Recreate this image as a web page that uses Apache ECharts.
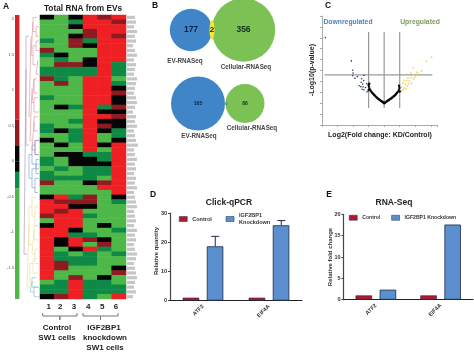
<!DOCTYPE html>
<html>
<head>
<meta charset="utf-8">
<style>
  html, body { margin: 0; padding: 0; background: #fff; }
  #main { width: 474px; height: 354px; filter: blur(0.35px); }
</style>
<script src="https://cdn.jsdelivr.net/npm/echarts@6/dist/echarts.min.js"></script>
</head>
<body>
<div id="main"></div>
<script>
// heat levels: R up, M dark red, K black, D dark green, G green
const R = 2, M = 0.4, K = 0, D = -0.3, G = -1;

const heatCol1 = [K,G,G,G,G,D,G,M,D,G,G,D,D,M,G,G,G,D,G,G,G,G,G,D,D,G,K,G,G,G,D,D,G,D,D,M,G,G,K,R,R,R,M,G,K,R,R,R,R,R,R,R,R,R,R,R,G,D,D,K];
const heatCol2 = [G,G,G,G,G,G,G,G,K,D,M,D,D,D,M,G,G,G,G,K,G,G,G,G,K,G,G,K,G,K,G,G,D,G,D,G,G,G,R,M,R,M,R,R,R,R,R,K,K,G,D,D,M,M,G,G,D,D,D,M];
const heatCol3 = [K,D,K,G,K,M,M,G,G,G,M,D,D,G,G,G,G,G,G,D,G,G,D,G,D,D,D,G,G,K,K,K,G,G,D,G,G,G,D,M,K,R,R,R,R,K,D,R,R,K,G,D,D,G,G,M,R,R,R,R];
const heatCol4 = [R,R,R,M,M,D,K,G,G,K,K,D,D,R,R,R,R,R,R,R,R,R,R,R,R,R,R,R,R,D,K,K,D,D,D,K,G,G,M,M,K,G,D,G,G,G,D,M,G,R,D,D,D,G,G,G,D,D,D,D];
const heatCol5 = [M,R,R,R,R,R,R,R,R,R,R,R,R,R,R,R,R,R,R,D,K,R,K,M,K,G,G,K,G,D,D,K,D,D,G,M,R,G,G,G,G,G,G,G,K,G,G,K,M,D,G,G,G,G,G,K,D,D,D,G];
const heatCol6 = [R,M,R,R,M,R,R,R,R,R,D,D,D,G,D,K,M,K,K,M,K,M,K,K,D,D,K,R,R,R,R,R,R,R,R,R,R,R,K,D,G,G,G,G,G,D,G,G,G,G,D,G,G,K,M,G,G,D,D,R];
const heatCols = [heatCol1, heatCol2, heatCol3, heatCol4, heatCol5, heatCol6];
const heatSamples = ['1', '2', '3', '4', '5', '6'];

// gene names are not legible in the picture, only how long each one runs
const geneLabelLengths = [8,9,7,10,8,9,6,8,10,7,9,8,7,10,9,8,7,9,10,8,6,9,8,10,7,8,9,11,7,8,10,8,9,7,9,8,10,7,8,9,10,7,8,9,7,10,8,9,7,8,10,9,7,8,9,10,8,7,9,6];

// colour key, stacked above and below zero
const keyTicks = [2, 1.5, 1, 0.5, 0, -0.5, -1, -1.5];
const keyUp = [0.225, 0.365, 1.47];
const keyDown = [-0.15, -0.23, -1.56];

// dendrogram brackets: [parent depth, row top, row bottom, child depth top, child depth bottom]
const treeRoot = [
  [0, 11, 50, 2, 3],
  [2, 4, 27, 5, 5]
];
const treeRed = [
  [5, 4, 21, 7, 6],
  [7, 1, 8, 9, 9],
  [9, 0, 3, 13, 12],
  [12, 2, 4, 15, 15],
  [9, 6, 10, 12, 12],
  [12, 5, 7, 15, 15],
  [12, 9, 12, 14, 15],
  [6, 15, 26, 8, 8],
  [8, 13, 18, 10, 10],
  [10, 13, 16, 13, 14],
  [10, 17, 20, 14, 15],
  [8, 22, 28, 10, 11],
  [10, 21, 24, 14, 14],
  [11, 26, 29, 15, 15]
];
const treeBlue = [
  [5, 29, 34, 8, 8],
  [8, 27, 31, 11, 12],
  [11, 26, 29, 15, 15],
  [12, 30, 32, 15, 15],
  [8, 32, 36, 12, 11],
  [12, 31, 33, 15, 15],
  [11, 34, 37, 15, 14]
];
const treeYellow = [
  [3, 44, 57, 5, 6],
  [5, 40, 48, 8, 8],
  [8, 38, 42, 12, 11],
  [11, 40, 44, 14, 14],
  [8, 45, 50, 10, 11],
  [10, 44, 47, 14, 15],
  [11, 49, 52, 14, 15],
  [6, 52, 56, 9, 11],
  [9, 51, 54, 13, 14]
];
const treeTeal = [
  [6, 56, 58, 8, 10],
  [8, 55, 57, 12, 15],
  [10, 57, 59, 14, 15]
];

// venn counts
const vennTopCounts = [177, 2, 356];
const vennBottomCounts = [165, 0, 86];

// volcano points [log2 fold change, -log10 p]
const volcanoDown = [[-3.78,3.01],[-2.11,1.94],[-2.03,1.51],[-2.0,1.38],[-2.03,1.26],[-1.88,1.15],[-1.72,1.22],[-1.3,1.28],[-1.45,1.12],[-1.32,1.04],[-1.48,0.96],[-1.38,0.88],[-1.6,0.8],[-1.5,0.76],[-1.36,0.74],[-1.42,0.64],[-1.3,0.62],[-1.12,0.9],[-1.2,0.72],[-1.1,0.52]];
const volcanoUp = [[3.05,2.11],[2.73,1.93],[1.88,1.63],[2.41,1.48],[2.1,1.42],[1.72,1.38],[1.9,1.3],[2.2,1.34],[1.52,1.16],[1.75,1.16],[2.0,1.2],[1.28,1.05],[1.45,1.04],[1.62,1.02],[1.9,1.1],[1.2,0.92],[1.38,0.86],[1.58,0.9],[1.76,0.92],[1.12,0.74],[1.3,0.7],[1.5,0.78],[1.1,0.58],[1.22,0.62],[1.42,0.66]];
const volcanoMid = [[0,0],[0.05,0.02],[-0.05,0.03],[0.1,0.05],[-0.1,0.06],[0.16,0.08],[-0.16,0.09],[0.22,0.11],[-0.22,0.12],[0.28,0.14],[-0.28,0.15],[0.34,0.17],[-0.34,0.18],[0.4,0.2],[-0.4,0.21],[0.46,0.23],[-0.46,0.25],[0.52,0.26],[-0.52,0.29],[0.58,0.3],[-0.58,0.33],[0.64,0.33],[-0.64,0.38],[0.7,0.37],[-0.7,0.42],[0.76,0.42],[-0.76,0.47],[0.82,0.47],[-0.82,0.52],[0.88,0.52],[-0.88,0.58],[0.94,0.6],[-0.94,0.66],[0.98,0.7],[-0.98,0.76],[0.96,0.8],[-1.0,0.84],[-0.96,0.9],[-1.0,0.6],[1.0,0.54]];
const volcanoCutX = [-1, 0, 1];
const volcanoCutY = 1.3;

// bars
const genes = ['ATF2', 'EIF4A'];
const qpcrControl = [1, 1];
const qpcrKnockdown = [18.6, 25.8];
const qpcrKnockdownTop = [22, 27.4];
const seqControl = [1, 1];
const seqKnockdown = [2.35, 17.6];

const chart = echarts.init(document.getElementById('main'), null, { renderer: 'canvas' });

const FONT = '"Liberation Sans", Arial, sans-serif';
const INK = '#222';
const BAR_EDGE = '#1d2a44';

function treeLine(brackets) {
  const pts = [];
  brackets.forEach(b => {
    pts.push([b[3], b[1]], [b[0], b[1]], [b[0], b[2]], [b[4], b[2]], [null, null]);
  });
  return pts;
}

function treeSeries(name, brackets, color) {
  return {
    name: name, type: 'line', xAxisIndex: 3, yAxisIndex: 3,
    data: treeLine(brackets), showSymbol: false, silent: true,
    connectNulls: false, lineStyle: { color: color, width: 0.6 }
  };
}

function txt(x, y, text, size, color, extra) {
  return {
    type: 'text', x: x, y: y, rotation: extra && extra.rotation || 0,
    style: {
      text: text, fontFamily: FONT, fontSize: size, fontWeight: 'bold',
      fill: color || INK, align: 'center', verticalAlign: 'middle'
    }
  };
}

function brace(x1, x2, y) {
  const mid = (x1 + x2) / 2;
  return {
    type: 'polyline',
    shape: { points: [[x1, y - 3], [x1, y], [mid, y], [mid, y + 4], [mid, y], [x2, y], [x2, y - 3]] },
    style: { stroke: '#777', lineWidth: 1, fill: null }
  };
}

function keyBar(name, value, color) {
  return {
    name: name, type: 'bar', xAxisIndex: 2, yAxisIndex: 2, stack: 'key', barWidth: '100%',
    data: [value], silent: true, itemStyle: { color: color }
  };
}

const heatData = [];
heatCols.forEach((col, c) => col.forEach((v, r) => heatData.push([c, r, v])));
const rowNames = heatCol1.map((v, i) => i);

const hidden = { show: false };

const option = {
  animation: false,
  backgroundColor: '#fff',
  textStyle: { fontFamily: FONT },
  legend: [
    {
      data: ['Control', 'IGF2BP1 Knockdown'], left: 179, top: 212, itemWidth: 8, itemHeight: 5,
      itemGap: 14, padding: 0, selectedMode: false, icon: 'rect',
      itemStyle: { borderWidth: 0.5 },
      formatter: n => n.replace(' ', '\n'),
      textStyle: { fontSize: 5.5, fontWeight: 'bold', color: '#333', lineHeight: 7 }
    },
    {
      data: ['Control', 'IGF2BP1 Knockdown'], left: 349, top: 215, itemWidth: 8, itemHeight: 5,
      itemGap: 11, padding: 0, selectedMode: false, icon: 'rect',
      itemStyle: { borderWidth: 0.5 },
      textStyle: { fontSize: 5.1, fontWeight: 'bold', color: '#333' }
    }
  ],
  visualMap: {
    show: false, seriesIndex: 0, type: 'piecewise', dimension: 2,
    pieces: [
      { value: R, color: '#ee2024' },
      { value: M, color: '#8f1a20' },
      { value: K, color: '#050505' },
      { value: D, color: '#0e8a46' },
      { value: G, color: '#4db748' }
    ]
  },
  grid: [
    { left: 40, top: 15, width: 86, height: 284 },
    { left: 127, top: 15, width: 12, height: 284 },
    { left: 15, top: 15, width: 4.4, height: 288.2 },
    { left: 24, top: 15, width: 16, height: 284 },
    { left: 160, top: 0, width: 130, height: 140 },
    { left: 322, top: 16, width: 115, height: 109 },
    { left: 170, top: 213, width: 132, height: 87.6 },
    { left: 343.5, top: 214.3, width: 129.5, height: 85.4 }
  ],
  xAxis: [
    { gridIndex: 0, type: 'category', data: heatSamples, show: false },
    { gridIndex: 1, type: 'value', min: 0, max: 12, show: false },
    { gridIndex: 2, type: 'category', data: ['key'], show: false },
    { gridIndex: 3, type: 'value', min: 0, max: 16, show: false },
    { gridIndex: 4, type: 'value', min: 0, max: 130, show: false },
    {
      gridIndex: 5, type: 'value', min: -4, max: 3.4, interval: 1,
      axisLabel: hidden, splitLine: hidden,
      axisLine: { show: true, onZero: false, lineStyle: { color: '#aaa', width: 1 } },
      axisTick: { show: true, length: 2, lineStyle: { color: '#aaa' } }
    },
    {
      gridIndex: 6, type: 'category', data: genes,
      axisLine: { lineStyle: { color: '#222', width: 1 } },
      axisTick: { alignWithLabel: true, length: 2, lineStyle: { color: '#222' } },
      axisLabel: { rotate: 45, fontSize: 5.5, fontWeight: 'bold', color: '#333', margin: 5, interval: 0 }
    },
    {
      gridIndex: 7, type: 'category', data: genes,
      axisLine: { lineStyle: { color: '#222', width: 1 } },
      axisTick: { alignWithLabel: true, length: 2, lineStyle: { color: '#222' } },
      axisLabel: { rotate: 45, fontSize: 5.5, fontWeight: 'bold', color: '#333', margin: 5, interval: 0 }
    }
  ],
  yAxis: [
    { gridIndex: 0, type: 'category', data: rowNames, inverse: true, show: false },
    { gridIndex: 1, type: 'category', data: rowNames, inverse: true, show: false },
    {
      gridIndex: 2, type: 'value', min: -2, max: 2.06, interval: 0.5,
      splitLine: hidden,
      axisLine: hidden, axisTick: hidden,
      axisLabel: {
        fontSize: 4, color: '#555', margin: 1,
        formatter: v => keyTicks.indexOf(v) >= 0 ? String(v) : ''
      }
    },
    { gridIndex: 3, type: 'value', min: -0.5, max: 59.5, inverse: true, show: false },
    { gridIndex: 4, type: 'value', min: 0, max: 140, inverse: true, show: false },
    {
      gridIndex: 5, type: 'value', min: -1, max: 4, interval: 0.5,
      axisLabel: hidden, splitLine: hidden,
      axisLine: { show: true, onZero: false, lineStyle: { color: '#aaa', width: 1 } },
      axisTick: { show: true, length: 2, lineStyle: { color: '#aaa' } }
    },
    {
      gridIndex: 6, type: 'value', min: 0, max: 30, interval: 10, splitLine: hidden,
      axisLine: { show: true, lineStyle: { color: '#444', width: 1.2 } },
      axisTick: { show: true, length: 2, lineStyle: { color: '#444' } },
      axisLabel: { fontSize: 5.5, fontWeight: 'bold', color: '#333', margin: 3 }
    },
    {
      gridIndex: 7, type: 'value', min: 0, max: 20, interval: 5, splitLine: hidden,
      axisLine: { show: true, lineStyle: { color: '#444', width: 1.2 } },
      axisTick: { show: true, length: 2, lineStyle: { color: '#444' } },
      axisLabel: { fontSize: 5.5, fontWeight: 'bold', color: '#333', margin: 3 }
    }
  ],
  series: [
    {
      name: 'heat', type: 'heatmap', xAxisIndex: 0, yAxisIndex: 0, data: heatData,
      progressive: 0, silent: true, emphasis: { disabled: true }
    },
    {
      name: 'geneLabels', type: 'bar', xAxisIndex: 1, yAxisIndex: 1, data: geneLabelLengths,
      barWidth: 3.2, silent: true, itemStyle: { color: '#c6c6c6' }
    },
    keyBar('keyK+', keyUp[0], '#050505'),
    keyBar('keyM', keyUp[1], '#8f1a20'),
    keyBar('keyR', keyUp[2], '#d8222a'),
    keyBar('keyK-', keyDown[0], '#050505'),
    keyBar('keyD', keyDown[1], '#0e8a46'),
    keyBar('keyG', keyDown[2], '#4db748'),
    treeSeries('treeRoot', treeRoot, '#a58ab0'),
    treeSeries('treeRed', treeRed, '#e08a90'),
    treeSeries('treeBlue', treeBlue, '#6f94cf'),
    treeSeries('treeYellow', treeYellow, '#e6dc90'),
    treeSeries('treeTeal', treeTeal, '#6fc2bd'),
    {
      name: 'vennA', type: 'scatter', xAxisIndex: 4, yAxisIndex: 4, silent: true,
      data: [[31, 30, vennTopCounts[0]]],
      symbolSize: v => 3.17 * Math.sqrt(v[2] + vennTopCounts[1]),
      itemStyle: { color: '#3f85c8', opacity: 1 },
      label: { show: true, position: 'inside', formatter: p => p.value[2], fontSize: 8.5, fontWeight: 'bold', color: '#10233f' }
    },
    {
      name: 'vennB', type: 'scatter', xAxisIndex: 4, yAxisIndex: 4, silent: true,
      data: [[83.5, 30, vennTopCounts[2]]],
      symbolSize: v => 3.35 * Math.sqrt(v[2] + vennTopCounts[1]),
      itemStyle: { color: '#7cc153', opacity: 1 },
      label: { show: true, position: 'inside', formatter: p => p.value[2], fontSize: 8.5, fontWeight: 'bold', color: '#12331a' }
    },
    {
      name: 'vennOverlap', type: 'scatter', xAxisIndex: 4, yAxisIndex: 4, silent: true,
      data: [[52, 30, vennTopCounts[1]]], symbolSize: [5, 20], z: 3,
      itemStyle: { color: '#f2e62e', opacity: 1 },
      label: { show: true, position: 'inside', formatter: p => p.value[2], fontSize: 8, fontWeight: 'bold', color: '#222' }
    },
    {
      name: 'vennC', type: 'scatter', xAxisIndex: 4, yAxisIndex: 4, silent: true,
      data: [[38, 103.5, vennBottomCounts[0]]],
      symbolSize: v => 4.2 * Math.sqrt(v[2]),
      itemStyle: { color: '#3f85c8', opacity: 1 },
      label: { show: true, position: 'inside', formatter: p => p.value[2], fontSize: 5, fontWeight: 'bold', color: '#10233f' }
    },
    {
      name: 'vennD', type: 'scatter', xAxisIndex: 4, yAxisIndex: 4, silent: true,
      data: [[85, 103.5, vennBottomCounts[2]]],
      symbolSize: v => 4.2 * Math.sqrt(v[2]),
      itemStyle: { color: '#7cc153', opacity: 1 },
      label: { show: true, position: 'inside', formatter: p => p.value[2], fontSize: 5, fontWeight: 'bold', color: '#12331a' }
    },
    {
      name: 'vennOverlap2', type: 'scatter', xAxisIndex: 4, yAxisIndex: 4, silent: true,
      data: [[66.3, 103.5, vennBottomCounts[1]]], symbolSize: 1, z: 3,
      itemStyle: { color: '#7cc153' },
      label: { show: true, position: 'inside', formatter: p => p.value[2], fontSize: 4, fontWeight: 'bold', color: '#1b4a6b' }
    },
    {
      name: 'cuts', type: 'line', xAxisIndex: 5, yAxisIndex: 5, showSymbol: false, silent: true, z: 1,
      connectNulls: false, lineStyle: { color: '#999', width: 1.2 },
      data: volcanoCutX.flatMap(x => [[x, -0.22], [x, 3.27], [null, null]]).concat([[-3.84, volcanoCutY], [3.1, volcanoCutY]])
    },
    {
      name: 'volcanoDown', type: 'scatter', xAxisIndex: 5, yAxisIndex: 5, silent: true,
      data: volcanoDown, symbolSize: 1.6, itemStyle: { color: '#2c3d66', opacity: 1 }
    },
    {
      name: 'volcanoUp', type: 'scatter', xAxisIndex: 5, yAxisIndex: 5, silent: true,
      data: volcanoUp, symbolSize: 1.8, itemStyle: { color: '#ecd85a', opacity: 1 }
    },
    {
      name: 'volcanoMid', type: 'scatter', xAxisIndex: 5, yAxisIndex: 5, silent: true,
      data: volcanoMid, symbolSize: 2.4, itemStyle: { color: '#0a0a0a', opacity: 1 }
    },
    {
      name: 'Control', type: 'bar', xAxisIndex: 6, yAxisIndex: 6, data: qpcrControl,
      barWidth: 16.5, barGap: '46%', itemStyle: { color: '#b01a30', borderColor: BAR_EDGE, borderWidth: 0.6 }
    },
    {
      name: 'IGF2BP1 Knockdown', type: 'bar', xAxisIndex: 6, yAxisIndex: 6, data: qpcrKnockdown,
      barWidth: 16.5, itemStyle: { color: '#5b8fd0', borderColor: BAR_EDGE, borderWidth: 0.8 }
    },
    {
      name: 'errors', type: 'custom', xAxisIndex: 6, yAxisIndex: 6, silent: true, z: 1,
      data: qpcrKnockdownTop.map((top, i) => [i, qpcrKnockdown[i], top]),
      renderItem: (params, api) => {
        const base = api.coord([api.value(0), api.value(1)]);
        const up = api.coord([api.value(0), api.value(2)]);
        const x = base[0] + 12.25;
        const style = { stroke: BAR_EDGE, lineWidth: 1 };
        return {
          type: 'group',
          children: [
            { type: 'line', shape: { x1: x, y1: base[1], x2: x, y2: up[1] }, style: style },
            { type: 'line', shape: { x1: x - 4, y1: up[1], x2: x + 4, y2: up[1] }, style: style }
          ]
        };
      }
    },
    {
      name: 'Control', type: 'bar', xAxisIndex: 7, yAxisIndex: 7, data: seqControl,
      barWidth: 16.5, barGap: '46%', itemStyle: { color: '#b01a30', borderColor: BAR_EDGE, borderWidth: 0.6 }
    },
    {
      name: 'IGF2BP1 Knockdown', type: 'bar', xAxisIndex: 7, yAxisIndex: 7, data: seqKnockdown,
      barWidth: 16.5, itemStyle: { color: '#5b8fd0', borderColor: BAR_EDGE, borderWidth: 0.8 }
    }
  ],
  graphic: [
    txt(6, 7, 'A', 8.5, '#111'),
    txt(155, 6, 'B', 8.5, '#111'),
    txt(328, 6, 'C', 8.5, '#111'),
    txt(153, 195, 'D', 8.5, '#111'),
    txt(329, 195, 'E', 8.5, '#111'),
    txt(83, 9, 'Total RNA from EVs', 8.3, '#222'),
    txt(185, 61, 'EV-RNASeq', 6.3, '#444'),
    txt(246, 67, 'Cellular-RNASeq', 6.3, '#444'),
    txt(199, 136, 'EV-RNASeq', 6.3, '#444'),
    txt(252, 128, 'Cellular-RNASeq', 6.3, '#444'),
    txt(348, 22, 'Downregulated', 6.8, '#4d82bd'),
    txt(420, 22, 'Upregulated', 6.8, '#7a9a5c'),
    txt(380, 135, 'Log2(Fold change: KD/Control)', 7, '#222'),
    txt(312, 70, '-Log10(p-value)', 7, '#222', { rotation: Math.PI / 2 }),
    txt(229, 203, 'Click-qPCR', 8.5, '#222'),
    txt(394, 203, 'RNA-Seq', 8.5, '#222'),
    txt(156, 251, 'Relative quantity', 6, '#333', { rotation: Math.PI / 2 }),
    txt(330, 257, 'Relative fold change', 6, '#333', { rotation: Math.PI / 2 }),
    txt(48.7, 307, heatSamples[0], 8),
    txt(60.3, 307, heatSamples[1], 8),
    txt(74, 307, heatSamples[2], 8),
    txt(88.3, 307, heatSamples[3], 8),
    txt(102.3, 307, heatSamples[4], 8),
    txt(116, 307, heatSamples[5], 8),
    brace(42.7, 77, 316),
    brace(83, 118, 316),
    txt(57, 327.5, 'Control', 8),
    txt(57, 337.5, 'SW1 cells', 8),
    txt(104, 327.5, 'IGF2BP1', 8),
    txt(105, 337.5, 'knockdown', 8),
    txt(105, 347.5, 'SW1 cells', 8)
  ]
};

chart.setOption(option);
</script>
</body>
</html>
